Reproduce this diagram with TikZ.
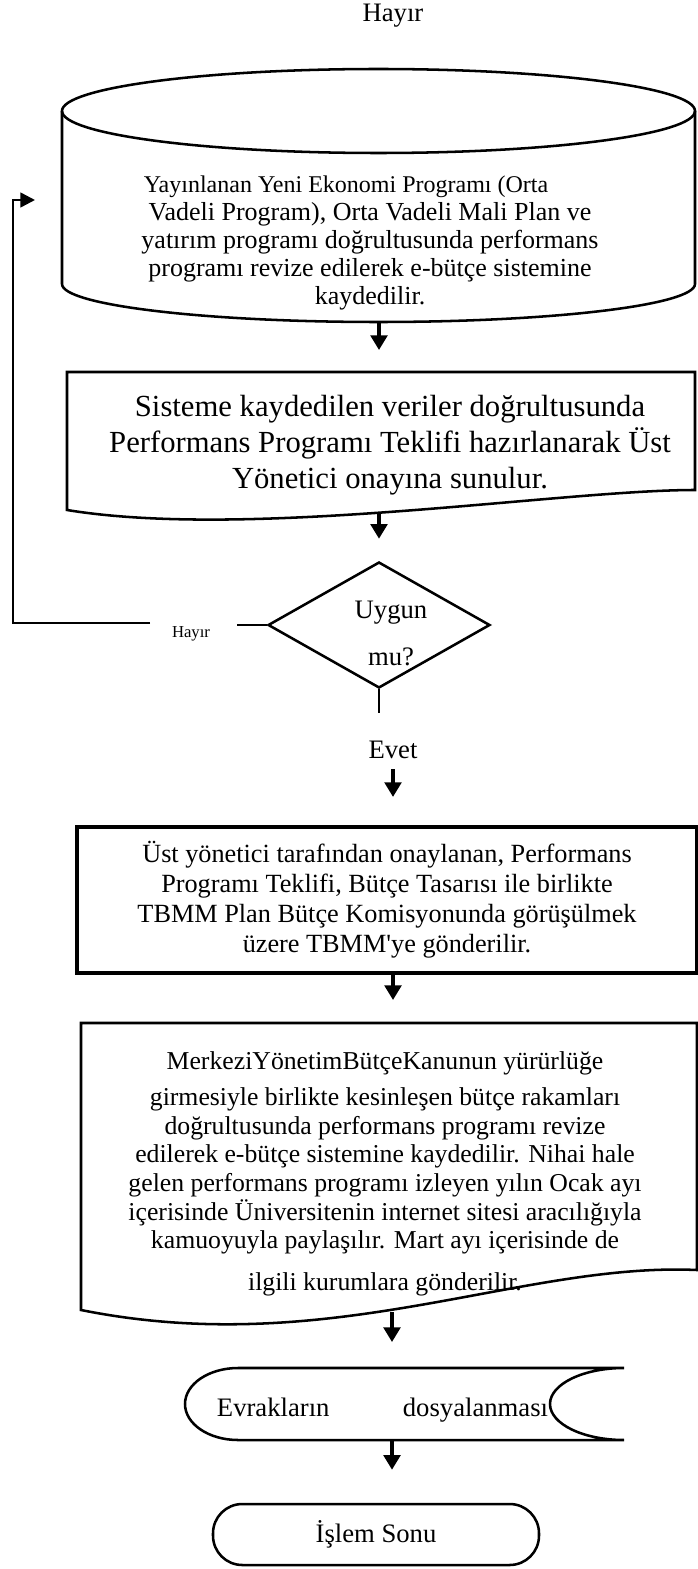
\documentclass[tikz,border=0pt]{standalone}
\usepackage{fontspec}
\setmainfont{Liberation Serif}
\usetikzlibrary{arrows.meta,shapes.geometric}
\tikzset{
  cizgi/.style={line width=1.9pt},
  okcizgi/.style={line width=2.6pt,-{Triangle[length=11pt,width=12.5pt]}},
  yazi/.style={font=\fontsize{20}{23}\selectfont,inner sep=0pt,align=center},
}
\begin{document}
\begin{tikzpicture}[x=0.75pt,y=-0.75pt]
\useasboundingbox (0,0) rectangle (698,1569);

% ust etiket
\node[yazi] (hayir1) at (393,16) {Hayır};

% silindir
\draw[cizgi] (378.5,111) ellipse [x radius=316.5, y radius=42];
\draw[cizgi] (62,111) -- (62,284) arc[start angle=180, end angle=0, x radius=316.5, y radius=38] -- (695,111);
\coordinate (silalt) at (379,322);
\node[yazi,font=\fontsize{19.5}{21}\selectfont] (silindir) at (370,243)
  {{\fontsize{18}{21}\selectfont Yayınlanan Yeni Ekonomi Programı (Orta}\hspace*{36pt}\\Vadeli Program), Orta Vadeli Mali Plan ve\\yatırım programı doğrultusunda performans\\programı revize edilerek e-bütçe sistemine\\kaydedilir.};

% belge kutusu
\draw[cizgi] (67,372) -- (695,372) -- (695,490) .. controls (560,490) and (250,540) .. (67,510) -- cycle;
\coordinate (k2ust) at (379,372);
\coordinate (k2alt) at (379,513);
\node[yazi,font=\fontsize{23}{27}\selectfont] (kutu2) at (390,445)
  {Sisteme kaydedilen veriler doğrultusunda\\Performans Programı Teklifi hazırlanarak Üst\\Yönetici onayına sunulur.};

% karar
\node[draw,cizgi,shape=diamond,minimum width=166.5pt,minimum height=94.5pt,inner sep=0pt] (karar) at (379,625) {};
\node[yazi,font=\fontsize{20}{35.25}\selectfont] (uygun) at (391,633) {Uygun\\mu?};
\coordinate (kararalt) at (379,713);
\coordinate (hayirsag) at (237,625);
\coordinate (hayirsol) at (150,623);
\coordinate (donus) at (13,623);
\coordinate (silgiris) at (35,200);
\node[yazi,font=\fontsize{12.5}{14}\selectfont] (hayir2) at (191,634) {Hayır};
\node[yazi] (evet) at (393,750) {Evet};

% onay kutusu
\node[draw,line width=2.3pt,yazi,font=\fontsize{19.7}{22.5}\selectfont,minimum width=465pt,minimum height=109.5pt] (kutu3) at (387,900)
  {Üst yönetici tarafından onaylanan, Performans\\Programı Teklifi, Bütçe Tasarısı ile birlikte\\TBMM Plan Bütçe Komisyonunda görüşülmek\\üzere TBMM\textquotesingle ye gönderilir.};

% ikinci belge kutusu
\draw[cizgi] (81,1023) -- (697,1023) -- (697,1270) .. controls (520,1262) and (330,1360) .. (81,1310) -- cycle;
\coordinate (k4ust) at (393,1023);
\coordinate (k4alt) at (392,1312);
\node[yazi,font=\fontsize{19.3}{21.4}\selectfont] (kutu4) at (385,1174)
  {MerkeziYönetimBütçeKanunun yürürlüğe\\[5.6pt]girmesiyle birlikte kesinleşen bütçe rakamları\\doğrultusunda performans programı revize\\edilerek e-bütçe sistemine kaydedilir. Nihai hale\\gelen performans programı izleyen yılın Ocak ayı\\içerisinde Üniversitenin internet sitesi aracılığıyla\\kamuoyuyla paylaşılır. Mart ayı içerisinde de\\[10pt]ilgili kurumlara gönderilir.};

% dosyalama
\draw[cizgi] (238,1368) -- (624,1368) arc[start angle=270, end angle=90, x radius=74, y radius=36] -- (238,1440) arc[start angle=90, end angle=270, x radius=53, y radius=36] -- cycle;
\coordinate (k5ust) at (392,1368);
\coordinate (k5alt) at (392,1440);
\node[yazi] (evrak) at (382.5,1410) {Evrakların\hspace{55pt}dosyalanması};

% son
\node[draw,cizgi,yazi,rounded corners=22pt,minimum width=244.5pt,minimum height=45.75pt] (son) at (376,1534.5) {İşlem Sonu};

% oklar
\draw[okcizgi,shorten >=16.5pt] (silalt) -- (k2ust);
\draw[okcizgi,shorten >=16.5pt] (k2alt) -- (karar.north);
\draw[cizgi] (karar.south) -- (kararalt);
\draw[cizgi] (karar.west) -- (hayirsag);
\draw[cizgi,-{Triangle[length=11pt,width=11pt]}] (hayirsol) -- (donus) |- (silgiris);
\draw[okcizgi,shorten <=7.5pt,shorten >=21.4pt] (evet.south) -- (evet.south |- kutu3.north);
\draw[okcizgi,shorten >=17.25pt] (kutu3.south -| k4ust) -- (k4ust);
\draw[okcizgi,shorten >=19.5pt] (k4alt) -- (k5ust);
\draw[okcizgi,shorten >=24.75pt] (k5alt) -- (k5alt |- son.north);
\end{tikzpicture}
\end{document}
